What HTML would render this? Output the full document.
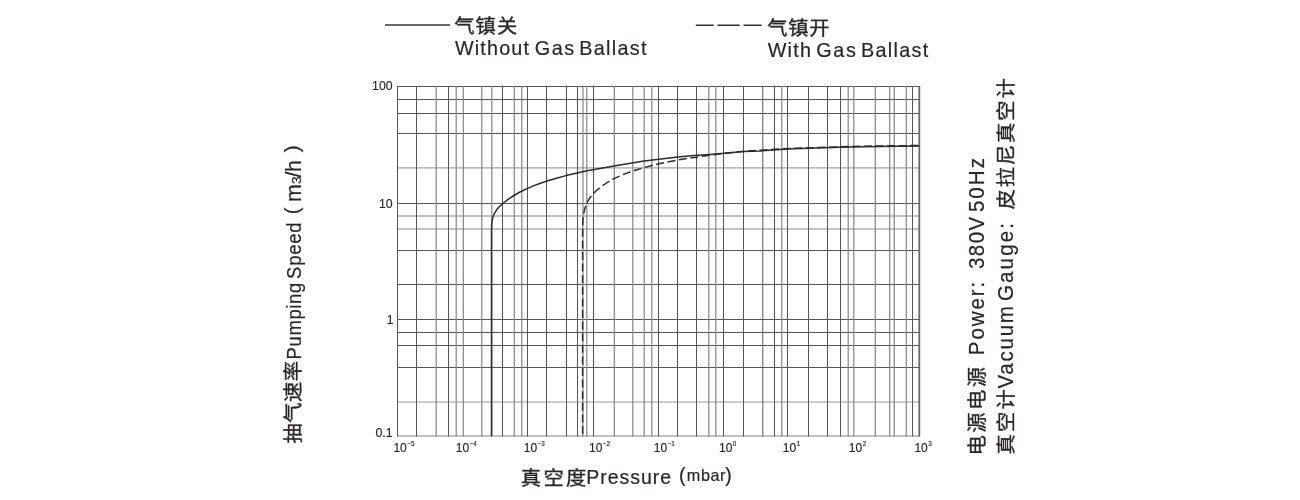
<!DOCTYPE html>
<html lang="zh-CN">
<head>
<meta charset="utf-8">
<title>Pumping Speed Curve</title>
<style>
html,body{margin:0;padding:0;background:#fff;}
body{width:1300px;height:500px;overflow:hidden;}
svg{display:block;will-change:transform;transform:translateZ(0);}
text{white-space:pre;}
</style>
</head>
<body>
<svg width="1300" height="500" viewBox="0 0 1300 500">
<rect width="1300" height="500" fill="#ffffff"/>
<g fill="none">
<line x1="397.0" x2="920.0" y1="86.5" y2="86.5" stroke="#595554" stroke-width="1.0"/>
<line x1="397.0" x2="920.0" y1="99.5" y2="99.5" stroke="#595554" stroke-width="1.0"/>
<line x1="397.0" x2="920.0" y1="113.5" y2="113.5" stroke="#595554" stroke-width="1.0"/>
<line x1="397.0" x2="920.0" y1="133.5" y2="133.5" stroke="#595554" stroke-width="1.0"/>
<line x1="397.0" x2="920.0" y1="167.8" y2="167.8" stroke="#bdbcbc" stroke-width="1.7"/>
<line x1="397.0" x2="920.0" y1="203.5" y2="203.5" stroke="#595554" stroke-width="1.0"/>
<line x1="397.0" x2="920.0" y1="216.0" y2="216.0" stroke="#868383" stroke-width="1.2"/>
<line x1="397.0" x2="920.0" y1="229.0" y2="229.0" stroke="#868383" stroke-width="1.2"/>
<line x1="397.0" x2="920.0" y1="250.5" y2="250.5" stroke="#595554" stroke-width="1.0"/>
<line x1="397.0" x2="920.0" y1="284.5" y2="284.5" stroke="#595554" stroke-width="1.0"/>
<line x1="397.0" x2="920.0" y1="319.5" y2="319.5" stroke="#595554" stroke-width="1.0"/>
<line x1="397.0" x2="920.0" y1="332.5" y2="332.5" stroke="#595554" stroke-width="1.0"/>
<line x1="397.0" x2="920.0" y1="345.5" y2="345.5" stroke="#595554" stroke-width="1.0"/>
<line x1="397.0" x2="920.0" y1="367.5" y2="367.5" stroke="#595554" stroke-width="1.0"/>
<line x1="397.0" x2="920.0" y1="402.0" y2="402.0" stroke="#bdbcbc" stroke-width="1.7"/>
<line x1="397.0" x2="920.0" y1="436.0" y2="436.0" stroke="#868383" stroke-width="1.2"/>
<line x1="397.5" x2="397.5" y1="86.0" y2="436.6" stroke="#595554" stroke-width="1.0"/>
<line x1="416.5" x2="416.5" y1="86.0" y2="436.6" stroke="#595554" stroke-width="1.0"/>
<line x1="436.2" x2="436.2" y1="86.0" y2="436.6" stroke="#868383" stroke-width="1.2"/>
<line x1="448.5" x2="448.5" y1="86.0" y2="436.6" stroke="#595554" stroke-width="1.0"/>
<line x1="456.2" x2="456.2" y1="86.0" y2="436.6" stroke="#868383" stroke-width="1.2"/>
<line x1="463.3" x2="463.3" y1="86.0" y2="436.6" stroke="#868383" stroke-width="1.2"/>
<line x1="481.8" x2="481.8" y1="86.0" y2="436.6" stroke="#868383" stroke-width="1.2"/>
<line x1="491.8" x2="491.8" y1="86.0" y2="436.6" stroke="#868383" stroke-width="1.2"/>
<line x1="502.5" x2="502.5" y1="86.0" y2="436.6" stroke="#595554" stroke-width="1.0"/>
<line x1="514.3" x2="514.3" y1="86.0" y2="436.6" stroke="#868383" stroke-width="1.2"/>
<line x1="521.8" x2="521.8" y1="86.0" y2="436.6" stroke="#868383" stroke-width="1.2"/>
<line x1="527.5" x2="527.5" y1="86.0" y2="436.6" stroke="#595554" stroke-width="1.0"/>
<line x1="546.5" x2="546.5" y1="86.0" y2="436.6" stroke="#595554" stroke-width="1.0"/>
<line x1="566.5" x2="566.5" y1="86.0" y2="436.6" stroke="#595554" stroke-width="1.0"/>
<line x1="577.5" x2="577.5" y1="86.0" y2="436.6" stroke="#595554" stroke-width="1.0"/>
<line x1="583.0" x2="583.0" y1="86.0" y2="436.6" stroke="#868383" stroke-width="1.2"/>
<line x1="586.8" x2="586.8" y1="86.0" y2="436.6" stroke="#868383" stroke-width="1.2"/>
<line x1="593.5" x2="593.5" y1="86.0" y2="436.6" stroke="#595554" stroke-width="1.0"/>
<line x1="614.3" x2="614.3" y1="86.0" y2="436.6" stroke="#868383" stroke-width="1.2"/>
<line x1="632.8" x2="632.8" y1="86.0" y2="436.6" stroke="#868383" stroke-width="1.2"/>
<line x1="644.2" x2="644.2" y1="86.0" y2="436.6" stroke="#868383" stroke-width="1.2"/>
<line x1="651.8" x2="651.8" y1="86.0" y2="436.6" stroke="#868383" stroke-width="1.2"/>
<line x1="658.5" x2="658.5" y1="86.0" y2="436.6" stroke="#595554" stroke-width="1.0"/>
<line x1="677.5" x2="677.5" y1="86.0" y2="436.6" stroke="#595554" stroke-width="1.0"/>
<line x1="696.5" x2="696.5" y1="86.0" y2="436.6" stroke="#595554" stroke-width="1.0"/>
<line x1="708.8" x2="708.8" y1="86.0" y2="436.6" stroke="#868383" stroke-width="1.2"/>
<line x1="715.8" x2="715.8" y1="86.0" y2="436.6" stroke="#868383" stroke-width="1.2"/>
<line x1="723.5" x2="723.5" y1="86.0" y2="436.6" stroke="#595554" stroke-width="1.0"/>
<line x1="743.5" x2="743.5" y1="86.0" y2="436.6" stroke="#595554" stroke-width="1.0"/>
<line x1="762.8" x2="762.8" y1="86.0" y2="436.6" stroke="#595554" stroke-width="1.0"/>
<line x1="774.5" x2="774.5" y1="86.0" y2="436.6" stroke="#595554" stroke-width="1.0"/>
<line x1="781.8" x2="781.8" y1="86.0" y2="436.6" stroke="#868383" stroke-width="1.2"/>
<line x1="787.5" x2="787.5" y1="86.0" y2="436.6" stroke="#595554" stroke-width="1.0"/>
<line x1="808.5" x2="808.5" y1="86.0" y2="436.6" stroke="#595554" stroke-width="1.0"/>
<line x1="827.5" x2="827.5" y1="86.0" y2="436.6" stroke="#595554" stroke-width="1.0"/>
<line x1="840.5" x2="840.5" y1="86.0" y2="436.6" stroke="#595554" stroke-width="1.0"/>
<line x1="848.2" x2="848.2" y1="86.0" y2="436.6" stroke="#868383" stroke-width="1.2"/>
<line x1="853.8" x2="853.8" y1="86.0" y2="436.6" stroke="#868383" stroke-width="1.2"/>
<line x1="875.3" x2="875.3" y1="86.0" y2="436.6" stroke="#868383" stroke-width="1.2"/>
<line x1="889.7" x2="889.7" y1="86.0" y2="436.6" stroke="#868383" stroke-width="1.2"/>
<line x1="894.2" x2="894.2" y1="86.0" y2="436.6" stroke="#868383" stroke-width="1.2"/>
<line x1="906.3" x2="906.3" y1="86.0" y2="436.6" stroke="#868383" stroke-width="1.2"/>
<line x1="912.5" x2="912.5" y1="86.0" y2="436.6" stroke="#595554" stroke-width="1.0"/>
<line x1="919.3" x2="919.3" y1="86.0" y2="436.6" stroke="#6a6766" stroke-width="1.8"/>
</g>
<polyline points="491.5,436 491.5,230 491.7,224 492.4,219 493.5,215.5 495,212.4 497.3,209 500,206 504,202.5 508,199.4 514,195.5 520,192 527,188.6 534,185.6 540.5,183.2 547,181 556.5,178.2 566,175.6 576,173.2 586,171 600,168.4 614,166 629,163.4 644,161 661,158.9 678,157 694,155.6 710,154.4 727,153 744,151.6 760,150.9 788,149 809,148.2 840,147.3 850,146.9 880,146.4 919.3,146" fill="none" stroke="#2f2a2a" stroke-width="1.5" stroke-linejoin="round"/>
<polyline points="582.6,436 582.6,226 582.9,220 583.6,214 584.6,209.5 586,205 587.6,201.6 590,197.6 593,194 597,190 602,186 608,182 614,178.6 622,175 630,172 637,169.7 644,167.6 652,165.5 660,163.6 669,161.7 678,160 687,158.5 696,157.2 710,155.2 724,153.3 744,151.3 788,148.5 840,146.8 880,145.9 919.3,145.5" fill="none" stroke="#2f2a2a" stroke-width="1.5" stroke-dasharray="8 3.6" stroke-dashoffset="-2" stroke-linejoin="round"/>
<line x1="385" x2="450" y1="25" y2="25" stroke="#6b6868" stroke-width="2"/>
<line x1="696.3" x2="713.2" y1="25.3" y2="25.3" stroke="#353130" stroke-width="1.5" stroke-linecap="round"/>
<line x1="718.0" x2="739.2" y1="25.3" y2="25.3" stroke="#353130" stroke-width="1.5" stroke-linecap="round"/>
<line x1="744.1" x2="761.1" y1="25.3" y2="25.3" stroke="#353130" stroke-width="1.5" stroke-linecap="round"/>
<g fill="#2b2625" stroke="#2b2625" stroke-width="0.2" font-family="&quot;Liberation Sans&quot;, &quot;Noto Sans CJK SC&quot;, sans-serif">
<text transform="translate(454.15 33.36) scale(1.07 1)" font-size="19.0" letter-spacing="1.03" stroke-width="0.34">气镇关</text>
<text transform="translate(454.88 55.00)" font-size="19.8" letter-spacing="1.18">Without</text>
<text transform="translate(534.71 55.00)" font-size="19.8" letter-spacing="1.53">Gas</text>
<text transform="translate(579.18 55.00)" font-size="19.8" letter-spacing="1.32">Ballast</text>
<text transform="translate(767.15 35.08) scale(1.07 1)" font-size="19.0" letter-spacing="0.70" stroke-width="0.34">气镇开</text>
<text transform="translate(767.67 57.00)" font-size="19.8" letter-spacing="1.24">With</text>
<text transform="translate(816.21 57.00)" font-size="19.8" letter-spacing="1.73">Gas</text>
<text transform="translate(860.88 57.00)" font-size="19.8" letter-spacing="1.33">Ballast</text>
<text transform="translate(520.74 485.00) scale(1.07 1)" font-size="19.0" letter-spacing="2.21" stroke-width="0.34">真空度</text>
<text transform="translate(586.24 484.00)" font-size="19.5" letter-spacing="0.98">Pressure</text>
<text transform="translate(678.96 481.80)" font-size="19.5" letter-spacing="0.00">(</text>
<text transform="translate(686.81 480.60)" font-size="16.2" letter-spacing="0.59">mbar</text>
<text transform="translate(725.16 481.80)" font-size="19.5" letter-spacing="0.00">)</text>
<text transform="translate(300.30 443.50) rotate(-90) scale(1.07 1)" font-size="19.0" letter-spacing="0.40" stroke-width="0.34">抽气速率</text>
<text transform="translate(300.80 359.38) rotate(-90) scale(0.93 1)" font-size="19.8" letter-spacing="0.71">Pumping</text>
<text transform="translate(300.80 278.92) rotate(-90) scale(0.93 1)" font-size="19.8" letter-spacing="0.84">Speed</text>
<text transform="translate(299.00 214.34) rotate(-90)" font-size="20.8" letter-spacing="0.00">(</text>
<text transform="translate(300.80 201.96) rotate(-90)" font-size="21.4" letter-spacing="0.00">m</text>
<text transform="translate(301.20 183.97) rotate(-90) scale(1.05 1)" font-size="13.0" letter-spacing="0.00">3</text>
<text transform="translate(300.80 177.57) rotate(-90)" font-size="21.4" letter-spacing="0.00">/</text>
<text transform="translate(300.80 171.98) rotate(-90)" font-size="21.4" letter-spacing="0.00">h</text>
<text transform="translate(299.00 152.20) rotate(-90)" font-size="20.8" letter-spacing="0.00">)</text>
<text transform="translate(984.09 455.38) rotate(-90) scale(1.07 1)" font-size="19.0" letter-spacing="2.22" stroke-width="0.34">电源电源</text>
<text transform="translate(984.00 355.19) rotate(-90) scale(0.935 1)" font-size="22.0" letter-spacing="2.01">Power:</text>
<text transform="translate(984.00 269.08) rotate(-90) scale(0.935 1)" font-size="22.0" letter-spacing="1.57">380V</text>
<text transform="translate(984.00 212.10) rotate(-90) scale(0.935 1)" font-size="22.0" letter-spacing="2.17">50Hz</text>
<text transform="translate(1012.53 454.52) rotate(-90) scale(1.07 1)" font-size="19.0" letter-spacing="2.01" stroke-width="0.34">真空计</text>
<text transform="translate(1013.40 388.56) rotate(-90) scale(0.935 1)" font-size="22.0" letter-spacing="1.85">Vacuum</text>
<text transform="translate(1013.40 301.00) rotate(-90) scale(0.935 1)" font-size="22.0" letter-spacing="2.24">Gauge:</text>
<text transform="translate(1012.87 209.53) rotate(-90) scale(1.07 1)" font-size="19.0" letter-spacing="1.75" stroke-width="0.34">皮拉尼真空计</text>
<text x="392.6" y="90.1" font-size="12.3" text-anchor="end" stroke-width="0.15">100</text>
<text x="392.6" y="208.0" font-size="12.3" text-anchor="end" stroke-width="0.15">10</text>
<text x="393.5" y="324.0" font-size="12.3" text-anchor="end" stroke-width="0.15">1</text>
<text x="392.6" y="437.0" font-size="12.3" text-anchor="end" stroke-width="0.15">0.1</text>
<text x="393.4" y="452.0" font-size="12" stroke-width="0.15">10<tspan font-size="6.3" dy="-5.8" dx="0.5">−5</tspan></text>
<text x="455.79999999999995" y="452.0" font-size="12" stroke-width="0.15">10<tspan font-size="6.3" dy="-5.8" dx="0.5">−4</tspan></text>
<text x="523.8" y="452.0" font-size="12" stroke-width="0.15">10<tspan font-size="6.3" dy="-5.8" dx="0.5">−3</tspan></text>
<text x="589.0" y="452.0" font-size="12" stroke-width="0.15">10<tspan font-size="6.3" dy="-5.8" dx="0.5">−2</tspan></text>
<text x="653.8" y="452.0" font-size="12" stroke-width="0.15">10<tspan font-size="6.3" dy="-5.8" dx="0.5">−1</tspan></text>
<text x="719.0" y="452.0" font-size="12" stroke-width="0.15">10<tspan font-size="6.3" dy="-5.8" dx="0.5">0</tspan></text>
<text x="782.8" y="452.0" font-size="12" stroke-width="0.15">10<tspan font-size="6.3" dy="-5.8" dx="0.5">1</tspan></text>
<text x="848.8" y="452.0" font-size="12" stroke-width="0.15">10<tspan font-size="6.3" dy="-5.8" dx="0.5">2</tspan></text>
<text x="914.4" y="452.0" font-size="12" stroke-width="0.15">10<tspan font-size="6.3" dy="-5.8" dx="0.5">3</tspan></text>
</g>
</svg>
</body>
</html>
